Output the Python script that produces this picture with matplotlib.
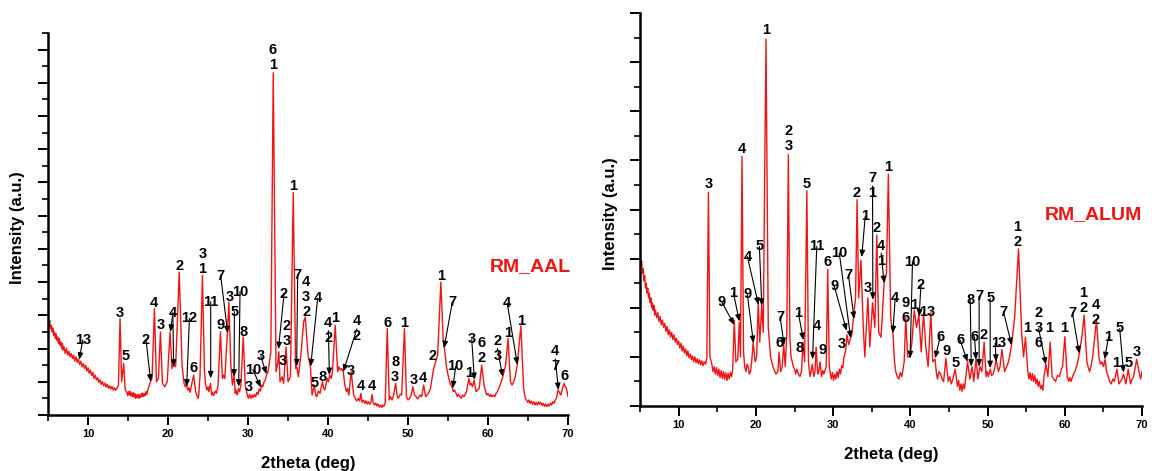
import matplotlib
matplotlib.use("Agg")
import matplotlib.pyplot as plt
from matplotlib.ticker import MultipleLocator, NullFormatter

plt.rcParams["font.family"] = ["Liberation Sans", "DejaVu Sans"]
plt.rcParams["font.weight"] = "bold"

# ---------------- RM_AAL pattern (2theta, intensity) ----------------
aal_points = [
    (5.0, 2.95), (5.1, 2.7), (5.2, 2.85), (5.3, 2.6), (5.4, 2.7), (5.5, 2.5), (5.6, 2.62), (5.7, 2.4),
    (5.8, 2.5), (5.9, 2.3), (6.0, 2.45), (6.1, 2.25), (6.2, 2.35), (6.3, 2.15), (6.4, 2.3), (6.5, 2.1),
    (6.6, 2.2), (6.7, 2.0), (6.8, 2.15), (6.9, 1.95), (7.0, 2.05), (7.15, 1.85), (7.3, 2.0), (7.45, 1.8),
    (7.6, 1.92), (7.75, 1.75), (7.9, 1.85), (8.05, 1.7), (8.2, 1.8), (8.35, 1.62), (8.5, 1.75), (8.65, 1.58),
    (8.8, 1.68), (8.95, 1.52), (9.1, 1.62), (9.25, 1.45), (9.4, 1.55), (9.55, 1.4), (9.7, 1.5), (9.85, 1.32),
    (10.0, 1.42), (10.15, 1.25), (10.3, 1.35), (10.45, 1.18), (10.6, 1.28), (10.75, 1.1), (10.9, 1.2),
    (11.05, 1.05), (11.2, 1.12), (11.35, 0.98), (11.5, 1.06), (11.65, 0.92), (11.8, 1.0), (11.95, 0.88),
    (12.1, 0.96), (12.25, 0.84), (12.4, 0.92), (12.55, 0.8), (12.7, 0.88), (12.85, 0.78), (13.0, 0.86),
    (13.15, 0.75), (13.3, 0.82), (13.45, 0.74), (13.6, 0.8), (13.8, 0.9),
    (14.0, 2.9), (14.2, 1.0), (14.45, 1.55), (14.65, 0.75),
    (14.85, 0.68), (14.95, 0.58), (15.05, 0.7), (15.15, 0.6), (15.25, 0.72), (15.35, 0.57), (15.45, 0.66),
    (15.55, 0.55), (15.65, 0.68), (15.75, 0.54), (15.85, 0.64), (15.95, 0.5), (16.05, 0.6), (16.15, 0.52),
    (16.25, 0.63), (16.35, 0.5), (16.45, 0.6), (16.55, 0.53), (16.65, 0.65), (16.75, 0.55), (16.85, 0.66),
    (16.95, 0.56), (17.05, 0.64), (17.15, 0.58), (17.25, 0.7), (17.35, 0.62), (17.5, 0.78),
    (17.8, 1.0), (18.0, 1.1), (18.3, 3.2), (18.55, 1.0), (18.8, 1.1), (19.05, 2.5),
    (19.3, 0.95), (19.6, 0.85), (19.9, 1.0), (20.25, 2.5), (20.5, 1.4), (20.7, 1.5), (20.95, 1.45),
    (21.4, 4.3), (21.75, 1.5), (22.0, 0.95), (22.15, 0.85), (22.3, 0.92), (22.45, 0.75), (22.6, 0.82),
    (22.75, 0.68), (22.9, 0.85), (23.2, 1.2),
    (23.45, 0.7), (23.6, 0.6), (23.75, 0.5), (23.85, 0.62), (24.0, 1.2), (24.3, 4.2), (24.55, 1.3),
    (24.7, 0.9), (24.85, 0.75), (25.0, 0.85), (25.1, 0.7), (25.3, 0.95), (25.45, 0.6), (25.55, 0.68),
    (25.7, 0.58), (25.9, 0.72), (26.05, 0.65), (26.25, 0.9), (26.55, 2.5), (26.8, 1.1), (26.95, 1.2),
    (27.1, 1.1), (27.4, 2.4), (27.6, 3.4), (27.85, 1.5), (28.05, 0.9), (28.25, 1.2), (28.4, 0.65),
    (28.5, 0.75), (28.65, 0.6), (28.8, 0.8), (28.95, 0.7), (29.1, 0.9), (29.4, 2.35), (29.65, 0.9),
    (29.9, 0.6), (30.05, 0.5), (30.2, 0.62), (30.35, 0.5), (30.5, 0.6), (30.65, 0.52), (30.8, 0.62),
    (30.95, 0.55), (31.1, 0.68), (31.25, 0.62), (31.4, 0.78), (31.55, 0.72), (31.7, 0.9), (31.85, 0.85),
    (32.0, 1.0), (32.15, 1.05), (32.3, 1.2), (32.5, 1.3), (32.85, 1.9), (33.15, 10.3), (33.5, 1.3),
    (33.7, 1.55), (33.85, 1.9), (34.0, 1.0), (34.25, 1.15), (34.45, 0.95), (34.75, 2.05), (35.0, 1.0),
    (35.3, 1.15), (35.65, 6.7), (35.95, 1.4), (36.1, 1.45), (36.3, 1.15), (36.6, 1.8), (36.95, 2.8),
    (37.15, 2.95), (37.5, 1.8), (37.8, 1.45), (38.0, 0.6), (38.15, 0.75), (38.3, 0.9), (38.45, 0.6),
    (38.6, 0.55), (38.8, 0.72), (39.0, 0.65), (39.3, 1.0), (39.45, 0.8), (39.6, 0.75), (39.9, 1.1),
    (40.05, 1.0), (40.2, 1.2), (40.4, 1.1), (40.55, 1.3), (40.9, 2.7), (41.2, 1.3), (41.35, 1.45),
    (41.5, 1.35), (41.7, 1.4), (41.9, 1.3), (42.1, 0.9), (42.3, 0.7), (42.45, 0.8), (42.6, 0.6),
    (42.9, 1.3), (43.2, 0.6), (43.4, 0.5), (43.6, 0.42), (43.8, 0.5), (43.95, 0.42), (44.1, 0.65),
    (44.25, 0.38), (44.45, 0.45), (44.6, 0.35), (44.75, 0.42), (44.9, 0.33), (45.05, 0.4), (45.2, 0.32),
    (45.35, 0.38), (45.5, 0.62), (45.65, 0.35), (45.8, 0.3), (45.95, 0.36), (46.1, 0.27), (46.25, 0.33),
    (46.4, 0.24), (46.55, 0.3), (46.7, 0.22), (46.85, 0.3), (47.0, 0.26), (47.15, 0.38),
    (47.4, 2.6), (47.65, 0.45), (47.8, 0.55), (48.0, 0.45), (48.2, 0.6), (48.45, 0.95), (48.65, 0.55),
    (48.8, 0.5), (49.0, 0.62), (49.2, 0.6), (49.55, 2.6), (49.8, 0.55), (50.0, 0.45), (50.2, 0.5),
    (50.4, 0.6), (50.6, 0.85), (50.8, 0.6), (51.0, 0.55), (51.2, 0.48), (51.5, 0.6), (51.7, 0.55),
    (51.95, 0.9), (52.2, 0.55), (52.4, 0.6), (52.6, 0.68), (52.8, 0.8), (53.0, 1.1), (53.2, 1.4),
    (53.45, 1.6), (53.7, 1.8), (54.1, 4.0), (54.4, 2.2), (54.6, 1.9), (54.8, 1.45), (55.0, 1.2),
    (55.2, 1.0), (55.35, 0.9), (55.5, 0.85), (55.65, 0.7), (55.8, 0.75), (56.0, 0.65), (56.15, 0.55),
    (56.3, 0.62), (56.5, 0.55), (56.65, 0.5), (56.8, 0.6), (57.0, 0.55), (57.15, 0.62), (57.3, 0.7),
    (57.6, 1.1), (57.75, 0.9), (57.9, 0.95), (58.05, 0.85), (58.25, 1.05), (58.5, 0.7), (58.7, 0.75),
    (58.9, 0.8), (59.2, 1.5), (59.5, 0.9), (59.7, 0.7), (59.85, 0.6), (60.0, 0.65), (60.2, 0.55),
    (60.35, 0.62), (60.5, 0.55), (60.7, 0.6), (60.85, 0.55), (61.0, 0.65), (61.2, 0.72), (61.5, 0.9),
    (61.85, 1.15), (62.2, 1.5), (62.5, 2.3), (62.8, 1.0), (63.0, 0.9), (63.2, 1.0), (63.4, 1.15),
    (63.65, 1.5), (64.1, 2.68), (64.45, 0.8), (64.65, 0.5),
    (64.8, 0.45), (64.95, 0.38), (65.1, 0.45), (65.25, 0.35), (65.4, 0.42), (65.55, 0.32), (65.7, 0.4),
    (65.85, 0.3), (66.0, 0.38), (66.15, 0.3), (66.3, 0.4), (66.45, 0.32), (66.6, 0.38), (66.75, 0.28),
    (66.9, 0.35), (67.05, 0.26), (67.2, 0.33), (67.35, 0.25), (67.5, 0.32), (67.65, 0.27), (67.8, 0.36),
    (67.95, 0.3), (68.1, 0.4), (68.25, 0.35), (68.4, 0.45), (68.55, 0.5),
    (68.75, 0.75), (69.1, 0.6), (69.3, 0.8), (69.5, 0.95), (69.65, 0.85), (69.8, 0.8), (70.0, 0.55),
]
aal_2theta = [p[0] for p in aal_points]
aal_intensity = [p[1] for p in aal_points]

# ---------------- RM_ALUM pattern ----------------
alum_points = [
    (5.0, 3.1), (5.1, 2.85), (5.2, 2.95), (5.3, 2.7), (5.4, 2.8), (5.5, 2.55), (5.6, 2.65), (5.7, 2.4),
    (5.8, 2.5), (5.9, 2.3), (6.0, 2.4), (6.1, 2.2), (6.2, 2.3), (6.3, 2.1), (6.4, 2.2), (6.5, 2.0),
    (6.6, 2.1), (6.7, 1.95), (6.8, 2.05), (6.9, 1.85), (7.0, 1.95), (7.15, 1.8), (7.3, 1.9), (7.45, 1.72),
    (7.6, 1.82), (7.75, 1.65), (7.9, 1.75), (8.05, 1.6), (8.2, 1.68), (8.35, 1.52), (8.5, 1.62),
    (8.65, 1.45), (8.8, 1.55), (8.95, 1.4), (9.1, 1.5), (9.25, 1.35), (9.4, 1.45), (9.55, 1.3),
    (9.7, 1.38), (9.85, 1.25), (10.0, 1.32), (10.15, 1.18), (10.3, 1.28), (10.45, 1.12), (10.6, 1.22),
    (10.75, 1.08), (10.9, 1.16), (11.05, 1.02), (11.2, 1.12), (11.35, 0.98), (11.5, 1.06), (11.65, 0.94),
    (11.8, 1.02), (11.95, 0.9), (12.1, 1.0), (12.25, 0.88), (12.4, 0.96), (12.55, 0.86), (12.7, 0.94),
    (12.85, 0.84), (13.0, 0.92), (13.15, 0.82), (13.3, 0.9), (13.5, 0.85), (13.65, 1.0),
    (13.85, 4.35), (14.05, 1.0),
    (14.3, 0.85), (14.45, 0.7), (14.6, 0.8), (14.75, 0.65), (14.9, 0.78), (15.05, 0.62), (15.2, 0.75),
    (15.35, 0.58), (15.5, 0.72), (15.65, 0.56), (15.8, 0.7), (15.95, 0.55), (16.1, 0.68), (16.25, 0.52),
    (16.4, 0.66), (16.55, 0.55), (16.7, 0.68), (16.85, 0.6), (17.0, 0.75),
    (17.2, 1.75), (17.4, 0.9), (17.65, 0.95),
    (17.85, 1.7), (18.0, 1.0), (18.2, 5.08), (18.4, 1.1), (18.55, 0.8), (18.7, 0.7), (18.85, 0.85),
    (19.0, 0.8), (19.15, 0.65), (19.3, 0.7), (19.45, 0.9), (19.65, 1.3), (19.9, 0.9), (20.1, 1.0),
    (20.3, 2.1), (20.5, 1.3), (20.75, 2.05), (20.95, 1.5), (21.3, 7.47), (21.6, 1.6), (21.9, 1.0),
    (22.05, 0.9), (22.2, 0.8), (22.4, 0.72), (22.6, 0.65), (22.85, 0.7), (23.0, 1.1), (23.2, 0.7),
    (23.4, 0.8), (23.6, 1.25), (23.8, 0.8), (24.0, 1.5), (24.2, 5.12), (24.4, 1.4), (24.55, 1.0),
    (24.7, 0.9), (24.85, 0.8), (25.0, 0.75), (25.15, 0.65), (25.3, 0.75), (25.5, 0.65), (25.7, 0.6),
    (25.9, 0.7), (26.1, 1.3), (26.3, 0.9), (26.6, 4.38), (26.8, 0.9), (27.0, 0.6), (27.15, 0.7),
    (27.3, 0.85), (27.5, 0.6), (27.65, 0.7), (27.8, 1.2), (28.0, 0.65), (28.15, 0.72), (28.3, 0.9),
    (28.5, 0.6), (28.65, 0.72), (28.8, 0.65), (29.1, 0.8), (29.3, 2.78), (29.5, 0.8),
    (29.6, 0.7), (29.75, 0.55), (29.9, 0.68), (30.05, 0.52), (30.2, 0.65), (30.35, 0.55), (30.5, 0.7),
    (30.65, 0.58), (30.8, 0.75), (30.95, 0.65), (31.1, 0.82), (31.25, 0.78), (31.4, 1.0),
    (31.6, 1.1), (31.8, 1.45), (32.0, 1.25), (32.2, 1.35), (32.4, 1.45), (32.6, 1.75), (32.9, 2.2),
    (33.1, 4.2), (33.3, 2.2), (33.6, 2.97), (33.9, 1.6), (34.1, 1.0), (34.5, 2.2), (34.75, 1.2),
    (35.1, 2.1), (35.4, 1.6), (35.65, 3.48), (35.9, 1.5), (36.2, 1.4), (36.6, 2.5), (36.9, 2.7),
    (37.15, 4.72), (37.45, 1.8), (37.75, 1.45), (37.95, 0.9), (38.1, 0.7), (38.3, 0.6), (38.5, 0.55),
    (38.7, 0.68), (38.9, 0.6), (39.2, 0.9), (39.4, 1.8), (39.65, 1.0), (39.95, 1.0), (40.2, 1.3),
    (40.5, 1.95), (40.8, 1.6), (41.1, 1.85), (41.4, 1.1), (41.7, 1.9), (42.0, 1.2), (42.3, 0.8),
    (42.65, 1.9), (42.9, 0.9), (43.2, 0.95), (43.35, 0.7), (43.5, 0.55), (43.7, 0.7), (43.9, 0.65),
    (44.1, 0.55), (44.3, 0.5), (44.6, 0.97), (44.9, 0.5), (45.1, 0.6), (45.3, 0.45), (45.5, 0.55),
    (45.8, 0.75), (46.1, 0.4), (46.25, 0.52), (46.4, 0.32), (46.55, 0.45), (46.7, 0.3), (46.85, 0.45),
    (47.0, 0.35), (47.15, 0.55), (47.4, 0.9), (47.7, 0.55), (48.0, 0.8), (48.2, 0.5), (48.5, 0.95),
    (48.75, 0.55), (49.0, 0.8), (49.25, 0.7), (49.55, 1.3), (49.8, 0.6), (49.95, 0.7), (50.1, 0.6),
    (50.35, 0.75), (50.5, 0.62), (50.7, 0.65), (50.9, 0.75), (51.1, 0.95), (51.4, 0.7), (51.6, 0.8),
    (51.85, 1.15), (52.2, 0.7), (52.4, 0.78), (52.6, 0.85), (52.85, 1.0), (53.1, 1.25), (53.5, 1.8),
    (54.0, 3.2), (54.4, 1.5), (54.65, 1.0), (54.9, 1.4),
    (55.2, 0.7), (55.35, 0.55), (55.5, 0.68), (55.65, 0.52), (55.8, 0.66), (55.95, 0.5), (56.1, 0.62),
    (56.25, 0.45), (56.4, 0.55), (56.55, 0.4), (56.7, 0.5), (56.85, 0.35), (57.0, 0.42), (57.15, 0.32),
    (57.3, 0.6), (57.55, 0.85), (57.8, 0.6), (58.1, 1.3), (58.35, 0.6), (58.55, 0.55), (58.8, 0.5),
    (59.05, 0.62), (59.3, 0.6), (59.5, 0.72), (59.7, 0.8), (60.0, 1.41), (60.3, 0.6), (60.5, 0.5),
    (60.65, 0.58), (60.8, 0.5), (61.05, 0.62), (61.3, 0.7), (61.6, 0.85), (61.85, 1.05), (62.2, 1.4),
    (62.5, 1.85), (62.85, 0.9), (63.0, 0.8), (63.2, 0.7), (63.4, 0.82), (63.6, 1.0), (64.1, 1.75),
    (64.4, 1.0), (64.6, 0.85), (64.8, 0.9), (65.0, 0.8), (65.2, 0.95), (65.4, 0.7), (65.6, 0.6),
    (65.8, 0.5), (66.0, 0.45), (66.2, 0.55), (66.4, 0.5), (66.75, 0.75), (67.0, 0.45), (67.2, 0.5),
    (67.4, 0.55), (67.6, 0.65), (67.9, 0.45), (68.2, 0.75), (68.5, 0.45), (68.7, 0.55), (68.9, 0.6),
    (69.3, 0.95), (69.6, 0.7), (69.8, 0.55), (70.0, 0.7),
]
alum_2theta = [p[0] for p in alum_points]
alum_intensity = [p[1] for p in alum_points]

# ---------------- phase labels: (text, x, y, arrow tips) ----------------
aal_labels = [
    ("13", 9.34, 2.26, [(8.9, 1.66)]), ("3", 14.0, 3.07, []), ("5", 14.7, 1.78, []),
    ("2", 17.25, 2.26, [(17.83, 1.0)]), ("4", 18.17, 3.37, []), ("3", 19.1, 2.71, []),
    ("4", 20.6, 3.07, [(20.3, 2.5), (20.7, 1.45)]), ("2", 21.4, 4.49, []),
    ("12", 22.67, 2.91, [(22.33, 0.85)]), ("6", 23.17, 1.41, []), ("3\n1", 24.3, 4.63, []),
    ("11", 25.33, 3.41, [(25.33, 1.1)]), ("9", 26.58, 2.71, []), ("7", 26.58, 4.19, [(27.46, 2.46)]),
    ("3", 27.67, 3.56, []), ("10", 29.0, 3.71, [(28.83, 0.85)]), ("5", 28.3, 3.11, [(28.25, 1.15)]),
    ("8", 29.4, 2.51, []), ("10", 30.6, 1.36, [(31.6, 0.83)]), ("3", 30.04, 0.85, []),
    ("3", 31.6, 1.76, [(32.3, 1.23)]), ("6\n1", 33.08, 10.76, []), ("2", 34.5, 3.64, [(33.8, 1.98)]),
    ("2\n3", 34.83, 2.45, []), ("3", 34.33, 1.63, []), ("1", 35.67, 6.9, []),
    ("7", 36.2, 4.22, [(36.08, 1.46)]), ("4\n3\n2", 37.27, 3.56, []), ("4", 38.7, 3.51, [(37.83, 1.46)]),
    ("5", 38.3, 0.95, []), ("8", 39.3, 1.15, []), ("4\n2", 40.04, 2.54, [(40.17, 1.2)]),
    ("1", 40.9, 2.91, []), ("4\n2", 43.6, 2.59, [(41.9, 1.3)]), ("3", 42.9, 1.33, []),
    ("4", 44.1, 0.87, []), ("4", 45.46, 0.87, []), ("6", 47.4, 2.76, []), ("8\n3", 48.4, 1.38, []),
    ("1", 49.54, 2.76, []), ("3", 50.67, 1.05, []), ("4", 51.9, 1.1, []), ("2", 53.04, 1.76, []),
    ("1", 54.08, 4.17, []), ("7", 55.54, 3.41, [(54.5, 2.01)]), ("10", 55.96, 1.46, [(55.58, 0.8)]),
    ("1", 57.6, 1.27, []), ("3", 57.96, 2.28, [(58.3, 1.05)]), ("6\n2", 59.2, 1.94, []),
    ("2\n3", 61.17, 2.0, [(61.83, 1.15)]), ("1", 62.46, 2.48, []), ("4", 62.4, 3.36, [(63.67, 1.51)]),
    ("1", 64.08, 2.84, []), ("4\n7", 68.4, 1.69, [(68.8, 0.75)]), ("6", 69.6, 1.17, []),
]

alum_labels = [
    ("3", 13.85, 4.52, []), ("4", 18.17, 5.23, []), ("1", 21.28, 7.66, []), ("2\n3", 24.21, 5.44, []),
    ("5", 26.6, 4.52, []), ("9", 15.58, 2.12, [(17.2, 1.65)]), ("1", 17.09, 2.3, [(17.86, 1.72)]),
    ("9", 18.9, 2.27, [(19.68, 1.28)]), ("4", 18.9, 3.04, [(20.33, 2.06)]),
    ("5", 20.45, 3.25, [(20.76, 2.04)]), ("7", 23.13, 1.82, [(23.65, 1.24)]), ("6", 23.0, 1.28, []),
    ("1", 25.5, 1.89, [(26.15, 1.34)]), ("8", 25.6, 1.18, []), ("11", 27.88, 3.25, [(27.33, 0.95)]),
    ("4", 27.88, 1.62, []), ("9", 28.6, 1.14, []), ("6", 29.3, 2.94, []),
    ("10", 30.8, 3.11, [(32.27, 1.38)]), ("9", 30.13, 2.45, [(31.75, 1.53)]),
    ("7", 31.98, 2.67, [(32.72, 1.77)]), ("3", 31.12, 1.26, []), ("2", 33.05, 4.33, []),
    ("1", 34.15, 3.86, [(33.7, 3.03)]), ("3", 34.44, 2.4, []), ("7\n1", 35.1, 4.48, [(35.14, 2.16)]),
    ("2", 35.65, 3.62, []), ("4\n1", 36.22, 3.11, [(36.6, 2.5)]), ("1", 37.16, 4.87, []),
    ("4", 38.03, 2.19, [(37.73, 1.48)]), ("9\n6", 39.42, 1.94, []), ("10", 40.27, 2.94, [(39.97, 0.97)]),
    ("1", 40.53, 2.06, []), ("2", 41.36, 2.46, [(41.14, 1.82)]), ("13", 42.12, 1.92, []),
    ("6", 43.86, 1.41, [(43.2, 0.97)]), ("9", 44.64, 1.11, []), ("5", 45.8, 0.87, []),
    ("6", 46.45, 1.34, [(47.4, 0.9)]), ("8", 47.75, 2.16, [(47.88, 0.8)]), ("7", 48.9, 2.23, [(48.9, 0.8)]),
    ("6", 48.3, 1.41, [(48.5, 0.94)]), ("2", 49.46, 1.45, []), ("5", 50.33, 2.19, [(50.33, 0.77)]),
    ("1", 50.98, 1.28, [(51.1, 0.9)]), ("3", 51.85, 1.28, []), ("7", 52.06, 1.92, [(53.1, 1.24)]),
    ("1\n2", 53.86, 3.49, []), ("1", 55.08, 1.58, []), ("2\n3\n6", 56.6, 1.58, [(57.55, 0.84)]),
    ("1", 58.01, 1.58, []), ("1", 59.92, 1.58, []), ("7", 60.99, 1.89, [(61.86, 1.07)]),
    ("1\n2", 62.42, 2.15, []), ("4\n2", 64.02, 1.91, []), ("1", 65.66, 1.41, [(65.15, 0.95)]),
    ("5", 67.1, 1.58, [(67.6, 0.68)]), ("1", 66.66, 0.87, []), ("5", 68.3, 0.88, []), ("3", 69.33, 1.09, []),
]

x_ticks = [10, 20, 30, 40, 50, 60, 70]
x_label = "2theta (deg)"
y_label = "Intensity (a.u.)"

RED = "#f01414"
LABEL_SIZE = 10.5

fig = plt.figure(figsize=(11.52, 4.71), dpi=100)
ax1 = fig.add_axes([0.0417, 0.119, 0.4514, 0.811])
ax2 = fig.add_axes([0.5556, 0.138, 0.4358, 0.8344])


def style(ax, ymax, ylab_x, xlab_y):
    ax.set_xlim(5, 70)
    ax.set_ylim(0, ymax)
    for s in ("top", "right"):
        ax.spines[s].set_visible(False)
    for s in ("left", "bottom"):
        ax.spines[s].set_linewidth(1.8)
    ax.set_xticks(x_ticks)
    ax.set_xticklabels([str(t) for t in x_ticks], fontsize=8, fontweight="bold")
    ax.xaxis.set_minor_locator(MultipleLocator(5))
    ax.yaxis.set_major_locator(MultipleLocator(1))
    ax.yaxis.set_minor_locator(MultipleLocator(0.5))
    ax.yaxis.set_major_formatter(NullFormatter())
    ax.tick_params(which="major", direction="out", length=7, width=1.4, pad=3)
    ax.tick_params(which="minor", direction="out", length=4.5, width=1.2)
    ax.set_xlabel(x_label, fontsize=12, fontweight="bold")
    ax.set_ylabel(y_label, fontsize=12, fontweight="bold")
    ax.xaxis.set_label_coords(0.5, xlab_y)
    ax.yaxis.set_label_coords(ylab_x, 0.49)


def label(ax, items):
    for text, x, y, tips in items:
        ax.text(x, y, text, ha="center", va="center", fontsize=LABEL_SIZE, fontweight="bold",
                linespacing=1.1, color="black")
        for tx, ty in tips:
            ax.annotate("", xy=(tx, ty), xytext=(x, y),
                        arrowprops=dict(arrowstyle="-|>,head_length=0.5,head_width=0.2",
                                        mutation_scale=8, lw=0.8, color="black",
                                        shrinkA=0, shrinkB=0,
                                        patchA=None))


def clip_arrows(ax, items):
    # shorten arrows so they start at the edge of the label text
    fig.canvas.draw()
    r = fig.canvas.get_renderer()
    texts = [t for t in ax.texts if t.get_text() and t.get_color() == "black"]
    anns = [a for a in ax.texts if hasattr(a, "arrow_patch") and a.arrow_patch is not None]
    k = 0
    for t, (text, x, y, tips) in zip(texts, items):
        bb = t.get_window_extent(r)
        for _ in tips:
            a = anns[k]
            k += 1
            from matplotlib.patches import Rectangle
            pad = 2
            rect = Rectangle((bb.x0 - pad, bb.y0 - pad), bb.width + 2 * pad, bb.height + 2 * pad,
                             transform=None, visible=False)
            a.arrow_patch.set_patchA(rect)


ax1.plot(aal_2theta, aal_intensity, color=RED, lw=1.0)
style(ax1, 11.5, -0.044, -0.108)
label(ax1, aal_labels)
ax1.text(65.25, 4.47, "RM_AAL", color=RED, fontsize=14, fontweight="bold", ha="center", va="center")

ax2.plot(alum_2theta, alum_intensity, color=RED, lw=1.0)
style(ax2, 8, -0.044, -0.105)
label(ax2, alum_labels)
ax2.text(63.72, 3.89, "RM_ALUM", color=RED, fontsize=14, fontweight="bold", ha="center", va="center")

clip_arrows(ax1, aal_labels)
clip_arrows(ax2, alum_labels)

fig.savefig("out.png", dpi=100)
